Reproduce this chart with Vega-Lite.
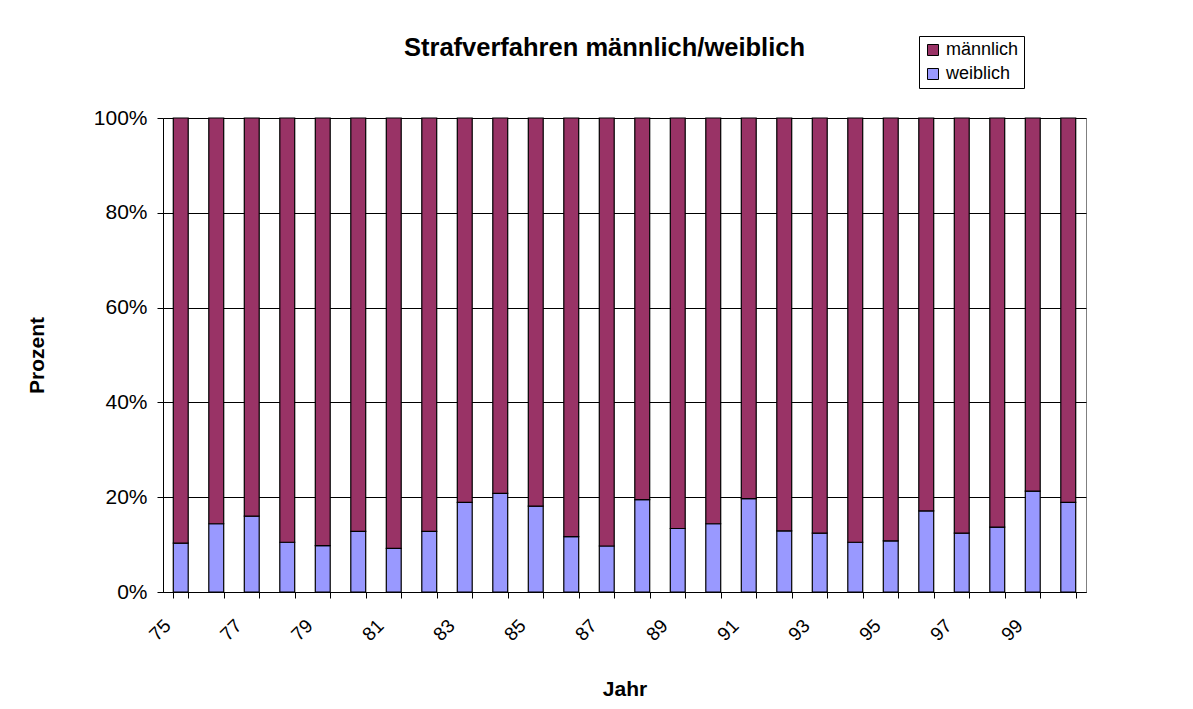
{
  "$schema": "https://vega.github.io/schema/vega-lite/v6.json",
  "width": 923,
  "height": 474,
  "autosize": {"type": "none"},
  "padding": {"left": 163, "top": 118, "right": 107, "bottom": 117},
  "background": "white",
  "title": {
    "text": "Strafverfahren männlich/weiblich",
    "font": "Liberation Sans",
    "fontSize": 25.5,
    "fontWeight": "bold",
    "color": "black",
    "anchor": "middle",
    "dx": -20,
    "offset": -26
  },
  "data": {
    "values": [
      {"jahr": "75", "geschlecht": "weiblich", "prozent": 10.3},
      {"jahr": "75", "geschlecht": "männlich", "prozent": 89.7},
      {"jahr": "76", "geschlecht": "weiblich", "prozent": 14.4},
      {"jahr": "76", "geschlecht": "männlich", "prozent": 85.6},
      {"jahr": "77", "geschlecht": "weiblich", "prozent": 16.0},
      {"jahr": "77", "geschlecht": "männlich", "prozent": 84.0},
      {"jahr": "78", "geschlecht": "weiblich", "prozent": 10.5},
      {"jahr": "78", "geschlecht": "männlich", "prozent": 89.5},
      {"jahr": "79", "geschlecht": "weiblich", "prozent": 9.8},
      {"jahr": "79", "geschlecht": "männlich", "prozent": 90.2},
      {"jahr": "80", "geschlecht": "weiblich", "prozent": 12.8},
      {"jahr": "80", "geschlecht": "männlich", "prozent": 87.2},
      {"jahr": "81", "geschlecht": "weiblich", "prozent": 9.2},
      {"jahr": "81", "geschlecht": "männlich", "prozent": 90.8},
      {"jahr": "82", "geschlecht": "weiblich", "prozent": 12.8},
      {"jahr": "82", "geschlecht": "männlich", "prozent": 87.2},
      {"jahr": "83", "geschlecht": "weiblich", "prozent": 18.9},
      {"jahr": "83", "geschlecht": "männlich", "prozent": 81.1},
      {"jahr": "84", "geschlecht": "weiblich", "prozent": 20.8},
      {"jahr": "84", "geschlecht": "männlich", "prozent": 79.2},
      {"jahr": "85", "geschlecht": "weiblich", "prozent": 18.1},
      {"jahr": "85", "geschlecht": "männlich", "prozent": 81.9},
      {"jahr": "86", "geschlecht": "weiblich", "prozent": 11.7},
      {"jahr": "86", "geschlecht": "männlich", "prozent": 88.3},
      {"jahr": "87", "geschlecht": "weiblich", "prozent": 9.7},
      {"jahr": "87", "geschlecht": "männlich", "prozent": 90.3},
      {"jahr": "88", "geschlecht": "weiblich", "prozent": 19.5},
      {"jahr": "88", "geschlecht": "männlich", "prozent": 80.5},
      {"jahr": "89", "geschlecht": "weiblich", "prozent": 13.4},
      {"jahr": "89", "geschlecht": "männlich", "prozent": 86.6},
      {"jahr": "90", "geschlecht": "weiblich", "prozent": 14.4},
      {"jahr": "90", "geschlecht": "männlich", "prozent": 85.6},
      {"jahr": "91", "geschlecht": "weiblich", "prozent": 19.7},
      {"jahr": "91", "geschlecht": "männlich", "prozent": 80.3},
      {"jahr": "92", "geschlecht": "weiblich", "prozent": 12.9},
      {"jahr": "92", "geschlecht": "männlich", "prozent": 87.1},
      {"jahr": "93", "geschlecht": "weiblich", "prozent": 12.4},
      {"jahr": "93", "geschlecht": "männlich", "prozent": 87.6},
      {"jahr": "94", "geschlecht": "weiblich", "prozent": 10.5},
      {"jahr": "94", "geschlecht": "männlich", "prozent": 89.5},
      {"jahr": "95", "geschlecht": "weiblich", "prozent": 10.8},
      {"jahr": "95", "geschlecht": "männlich", "prozent": 89.2},
      {"jahr": "96", "geschlecht": "weiblich", "prozent": 17.1},
      {"jahr": "96", "geschlecht": "männlich", "prozent": 82.9},
      {"jahr": "97", "geschlecht": "weiblich", "prozent": 12.4},
      {"jahr": "97", "geschlecht": "männlich", "prozent": 87.6},
      {"jahr": "98", "geschlecht": "weiblich", "prozent": 13.7},
      {"jahr": "98", "geschlecht": "männlich", "prozent": 86.3},
      {"jahr": "99", "geschlecht": "weiblich", "prozent": 21.3},
      {"jahr": "99", "geschlecht": "männlich", "prozent": 78.7},
      {"jahr": "00", "geschlecht": "weiblich", "prozent": 18.9},
      {"jahr": "00", "geschlecht": "männlich", "prozent": 81.1}
    ]
  },
  "mark": {"type": "bar", "stroke": "black", "strokeWidth": 1.2},
  "encoding": {
    "x": {
      "field": "jahr",
      "type": "nominal",
      "sort": null,
      "scale": {"paddingInner": 0.58, "paddingOuter": 0.29},
      "axis": {
        "title": "Jahr",
        "labelAngle": -45,
        "labelAlign": "right",
        "labelBaseline": "top",
        "labelExpr": "toNumber(datum.value) % 2 == 1 ? datum.label : ''",
        "tickBand": "extent",
        "labelPadding": 18,
        "labelOffset": -20,
        "titlePadding": 34
      }
    },
    "y": {
      "field": "prozent",
      "type": "quantitative",
      "stack": "normalize",
      "scale": {"domain": [0, 1]},
      "axis": {
        "title": "Prozent",
        "format": ".0%",
        "values": [0, 0.2, 0.4, 0.6, 0.8, 1],
        "labelPadding": 10,
        "titlePadding": 46
      }
    },
    "color": {
      "field": "geschlecht",
      "type": "nominal",
      "scale": {"domain": ["männlich", "weiblich"], "range": ["#993366", "#9999FF"]},
      "legend": {
        "title": null,
        "orient": "none",
        "legendX": 756,
        "legendY": -82,
        "padding": 5,
        "strokeColor": "black",
        "fillColor": "white",
        "symbolType": "square",
        "symbolSize": 121,
        "symbolStrokeColor": "black",
        "symbolStrokeWidth": 1,
        "symbolOpacity": 1,
        "labelFont": "Liberation Sans",
        "labelFontSize": 18,
        "labelColor": "black",
        "rowPadding": 6,
        "labelOffset": 4
      }
    },
    "order": {"field": "geschlecht", "sort": "descending"}
  },
  "config": {
    "view": {"stroke": "#808080", "strokeWidth": 1},
    "axis": {
      "labelFont": "Liberation Sans",
      "labelFontSize": 21,
      "labelColor": "black",
      "titleFont": "Liberation Sans",
      "titleFontSize": 21,
      "titleFontWeight": "bold",
      "titleColor": "black",
      "domainColor": "black",
      "tickColor": "black",
      "tickSize": 6,
      "gridColor": "black",
      "gridOpacity": 1
    },
    "axisX": {"grid": false, "labelFontSize": 19},
    "axisY": {"grid": true}
  }
}
